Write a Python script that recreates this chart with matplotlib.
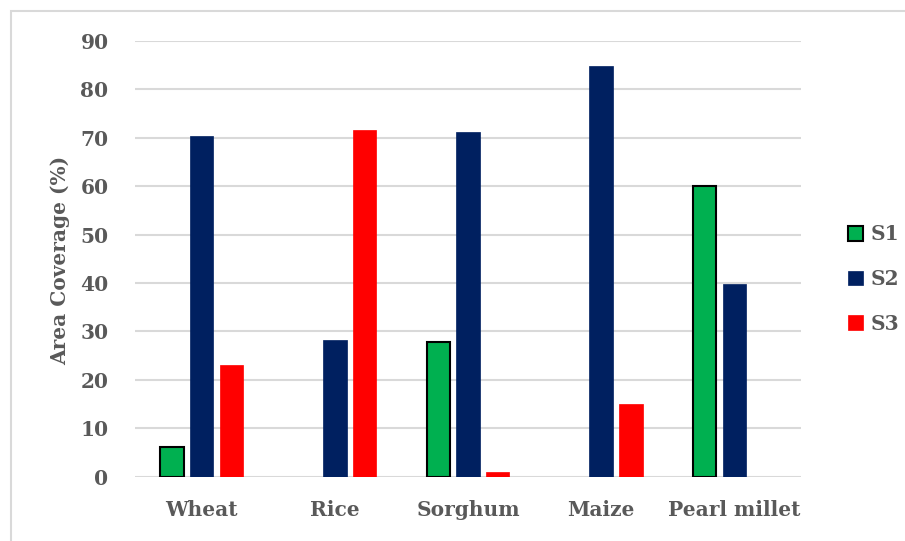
import matplotlib
matplotlib.use("Agg")
import matplotlib.pyplot as plt
from matplotlib.patches import Rectangle, Patch
import numpy as np

crops = ["Wheat", "Rice", "Sorghum", "Maize", "Pearl millet"]
s1 = [6.2, 0.0, 27.8, 0.0, 60.1]
s2 = [70.4, 28.2, 71.1, 84.9, 39.9]
s3 = [23.1, 71.6, 0.9, 15.1, 0.0]
series_names = ["S1", "S2", "S3"]
yticks = [0, 10, 20, 30, 40, 50, 60, 70, 80, 90]

colors = ["#00B050", "#002060", "#FF0000"]
edges = ["#000000", "#002060", "#FF0000"]
text_color = "#595959"
grid_color = "#D9D9D9"
fs = 14.5

plt.rcParams["font.family"] = ["DejaVu Serif"]
plt.rcParams["font.weight"] = "bold"

W, H = 905, 541
fig = plt.figure(figsize=(W / 100, H / 100), dpi=100)

# outer chart frame
fig.patches.append(Rectangle((11 / W, -0.1), 1.2, 1 - 11 / H + 0.1,
                             transform=fig.transFigure, fill=False,
                             edgecolor=grid_color, linewidth=1.5))

ax = fig.add_axes([135 / W, 1 - 476.7 / H, (801 - 135) / W, (476.7 - 41) / H])

x = np.arange(len(crops))
width = 0.176
offset = 0.223
for i, (vals, name) in enumerate(zip([s1, s2, s3], series_names)):
    base_lw = 1.5 if i == 0 else 0.5
    lws = [base_lw if v > 0 else 0 for v in vals]
    ax.bar(x + (i - 1) * offset, vals, width, color=colors[i],
           edgecolor=edges[i], linewidth=lws, label=name, zorder=3)

ax.set_xlim(-0.5, len(crops) - 0.5)
ax.set_ylim(0, 90)
ax.set_yticks(yticks)
ax.set_xticks(x)
ax.set_xticklabels(crops)
ax.yaxis.grid(True, color=grid_color, linewidth=1.5, zorder=0)
ax.set_axisbelow(True)
for sp in ax.spines.values():
    sp.set_visible(False)
ax.tick_params(axis="both", length=0, labelsize=fs, labelcolor=text_color)
ax.tick_params(axis="x", pad=17)
ax.tick_params(axis="y", pad=19)
for lab in ax.get_xticklabels() + ax.get_yticklabels():
    lab.set_fontweight("bold")

fig.text(60 / W, 1 - 260 / H, "Area Coverage (%)", rotation=90,
         ha="center", va="center", fontsize=fs, fontweight="bold",
         color=text_color)

handles = [Patch(facecolor=colors[i], edgecolor=edges[i],
                 linewidth=1.5 if i == 0 else 0.5) for i in range(3)]
leg = fig.legend(handles, series_names, loc="center left",
                 bbox_to_anchor=(838 / W, 1 - 279 / H), frameon=False,
                 fontsize=fs, handlelength=0.75, handleheight=0.75,
                 handletextpad=0.35, labelspacing=1.22, borderpad=0)
for t in leg.get_texts():
    t.set_color(text_color)
    t.set_fontweight("bold")

fig.savefig("out.png", dpi=100)
